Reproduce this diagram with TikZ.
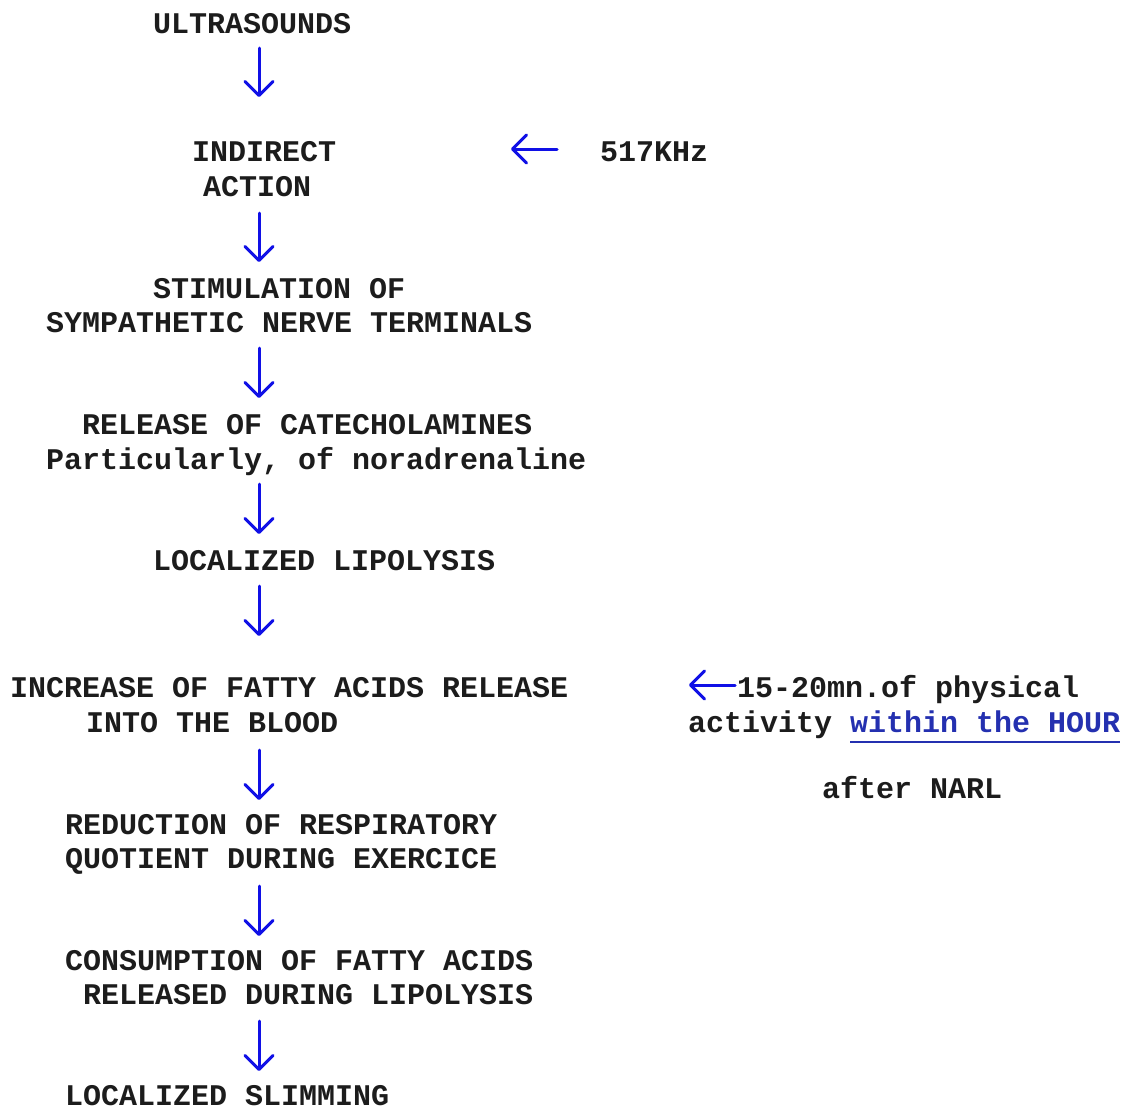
\documentclass[tikz,border=0pt]{standalone}
\usepackage{fontspec}
\setmonofont{Liberation Mono}
\usetikzlibrary{arrows.meta}
\definecolor{ink}{HTML}{1C1C1C}
\definecolor{arrblue}{HTML}{1010E6}
\definecolor{linkblue}{HTML}{2430B0}
\tikzset{
  txt/.style={anchor=base west, inner sep=0pt, text=ink,
    font=\ttfamily\bfseries\fontsize{30}{34}\selectfont},
  arr/.style={draw=arrblue, line width=3pt, line cap=round,
    -{Straight Barb[length=14pt, width=28pt, round]}},
  ul/.style={draw=linkblue, line width=2pt}
}
\begin{document}
\begin{tikzpicture}[x=1pt, y=-1pt]
\useasboundingbox[fill=white] (0,0) rectangle (1126,1106);
% left column
\node[txt] (ultra) at (153,33) {ULTRASOUNDS};
\node[txt] (ind1) at (192,161) {INDIRECT};
\node[txt] (ind2) at (203,196) {ACTION};
\node[txt] (stim1) at (153,298) {STIMULATION OF};
\node[txt] (stim2) at (46,332) {SYMPATHETIC NERVE TERMINALS};
\node[txt] (rel1) at (82,434) {RELEASE OF CATECHOLAMINES};
\node[txt] (rel2) at (46,469) {Particularly, of noradrenaline};
\node[txt] (lip) at (153,570) {LOCALIZED LIPOLYSIS};
\node[txt] (inc1) at (10,697) {INCREASE OF FATTY ACIDS RELEASE};
\node[txt] (inc2) at (86,732) {INTO THE BLOOD};
\node[txt] (red1) at (65,834) {REDUCTION OF RESPIRATORY};
\node[txt] (red2) at (65,868) {QUOTIENT DURING EXERCICE};
\node[txt] (con1) at (65,970) {CONSUMPTION OF FATTY ACIDS};
\node[txt] (con2) at (83,1004) {RELEASED DURING LIPOLYSIS};
\node[txt] (slim) at (65,1105) {LOCALIZED SLIMMING};
% right column
\node[txt] (khz) at (600,161) {517KHz};
\node[txt] (phys) at (737,697) {15-20mn.of physical};
\node[txt] (act) at (688,732) {activity};
\node[txt, text=linkblue] (link) at (850,732) {within the HOUR};
\node[txt] (narl) at (822,798) {after NARL};
\draw[ul] ([yshift=-10pt]link.base west) -- ([yshift=-10pt]link.base east);
% arrow end points
\coordinate (a1t) at (259,48);   \coordinate (a1b) at (259,97);
\coordinate (a2t) at (259,213);  \coordinate (a2b) at (259,262);
\coordinate (a3t) at (259,348);  \coordinate (a3b) at (259,398);
\coordinate (a4t) at (259,484);  \coordinate (a4b) at (259,534);
\coordinate (a5t) at (259,586);  \coordinate (a5b) at (259,636);
\coordinate (a6t) at (259,750);  \coordinate (a6b) at (259,800);
\coordinate (a7t) at (259,886);  \coordinate (a7b) at (259,936);
\coordinate (a8t) at (259,1021); \coordinate (a8b) at (259,1071);
\coordinate (k1) at (557,149);   \coordinate (k2) at (511,149);
\coordinate (p1) at (735,685);   \coordinate (p2) at (689,685);
\draw[arr] (a1t) -- (a1b);
\draw[arr] (a2t) -- (a2b);
\draw[arr] (a3t) -- (a3b);
\draw[arr] (a4t) -- (a4b);
\draw[arr] (a5t) -- (a5b);
\draw[arr] (a6t) -- (a6b);
\draw[arr] (a7t) -- (a7b);
\draw[arr] (a8t) -- (a8b);
\draw[arr] (k1) -- (k2);
\draw[arr] (p1) -- (p2);
\end{tikzpicture}
\end{document}
